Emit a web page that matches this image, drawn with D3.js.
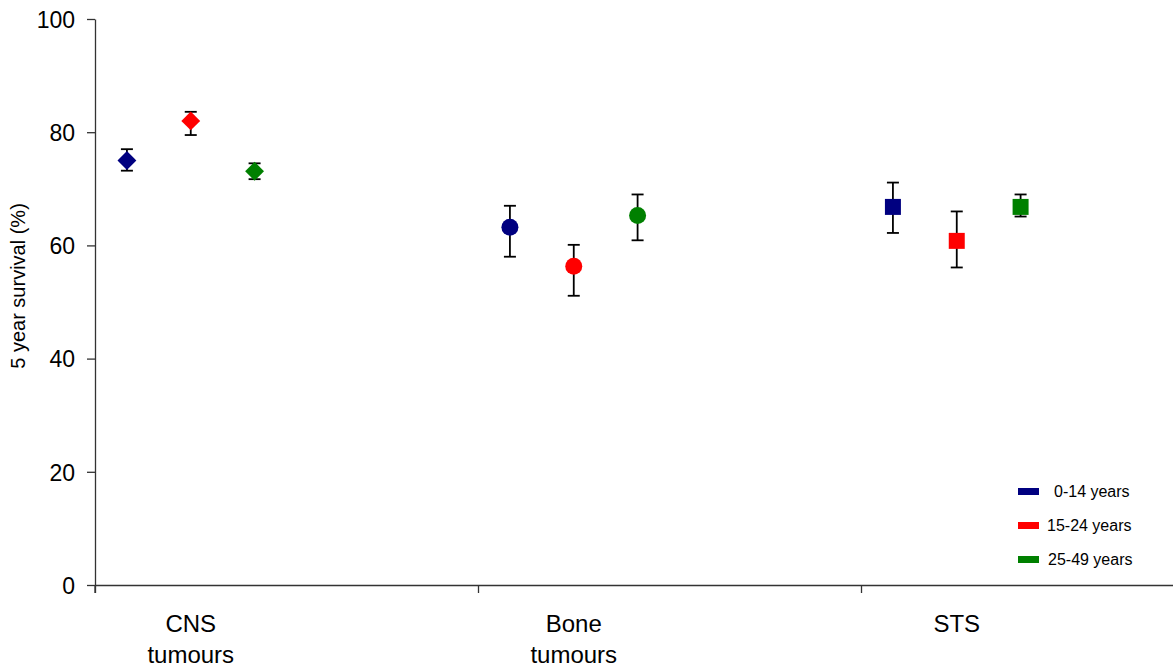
<!DOCTYPE html>
<html>
<head>
<meta charset="utf-8">
<script src="https://cdn.jsdelivr.net/npm/d3@7"></script>
<style>
  body { margin: 0; background: #fff; }
  text { font-family: Arial, "Liberation Sans", sans-serif; fill: #000; }
</style>
</head>
<body>
<svg id="chart" width="1173" height="669"></svg>
<script>
// chart data
var categories = [["CNS", "tumours"], ["Bone", "tumours"], ["STS"]];
var ageGroups = ["0-14 years", "15-24 years", "25-49 years"];
var colours = ["#000080", "#ff0000", "#008000"];
var yTicks = [0, 20, 40, 60, 80, 100];

// 5 year survival (%) with lower / upper limits, one value per category
var surv0_14 = [75.0, 63.2, 66.8];
var low0_14 = [73.2, 58.0, 62.2];
var high0_14 = [77.0, 67.0, 71.1];

var surv15_24 = [82.0, 56.3, 60.8];
var low15_24 = [79.5, 51.1, 56.1];
var high15_24 = [83.6, 60.1, 66.0];

var surv25_49 = [73.1, 65.3, 66.8];
var low25_49 = [71.7, 60.9, 65.1];
var high25_49 = [74.5, 69.0, 69.0];

// marker shape per category
var shapes = ["diamond", "circle", "square"];

var svg = d3.select("#chart");

// build point list
var series = [
    {value: surv0_14, low: low0_14, high: high0_14},
    {value: surv15_24, low: low15_24, high: high15_24},
    {value: surv25_49, low: low25_49, high: high25_49}
];
var points = [];
series.forEach(function(s, si) {
    s.value.forEach(function(v, ci) {
        points.push({cat: ci, group: si, value: v, low: s.low[ci], high: s.high[ci]});
    });
});

// scales - each category takes one unit, group centred at a quarter of it
var x = d3.scaleLinear().domain([0, 2.8146]).range([95, 1173]);
var y = d3.scaleLinear().domain([0, 100]).range([585, 19]);
var offsets = [-1 / 6, 0, 1 / 6];
function px(d) { return x(d.cat + 0.25 + offsets[d.group]); }

// axes
var yAxis = d3.axisLeft(y).tickValues(yTicks).tickSize(8).tickSizeOuter(0).tickPadding(12);
var xAxis = d3.axisBottom(x).tickValues([0, 1, 2]).tickFormat("").tickSize(8).tickSizeOuter(0);

var gY = svg.append("g").attr("transform", "translate(95,0)").call(yAxis);
gY.selectAll("text").style("font-size", "23px").attr("dy", "0.36em");
var gX = svg.append("g").attr("transform", "translate(0,585)").call(xAxis);
svg.selectAll(".domain, .tick line").attr("stroke", "#333").attr("stroke-width", 1.3);
// y axis line continues down past the x axis
svg.append("line")
    .attr("x1", 95).attr("x2", 95)
    .attr("y1", 585).attr("y2", 593)
    .attr("stroke", "#333").attr("stroke-width", 1.3);

// category labels
categories.forEach(function(lines, i) {
    var t = svg.append("text")
        .attr("x", x(i + 0.25))
        .attr("y", 632)
        .attr("text-anchor", "middle")
        .style("font-size", "24px");
    lines.forEach(function(l, j) {
        t.append("tspan").attr("x", x(i + 0.25)).attr("dy", j == 0 ? 0 : 31).text(l);
    });
});

// y axis title
svg.append("text")
    .attr("transform", "translate(25,286) rotate(-90)")
    .attr("text-anchor", "middle")
    .style("font-size", "20px")
    .text("5 year survival (%)");

// error bars
var err = svg.append("g").attr("stroke", "#000").attr("stroke-width", 1.8);
err.selectAll(".stem").data(points).enter().append("line")
    .attr("x1", px).attr("x2", px)
    .attr("y1", function(d) { return y(d.low); })
    .attr("y2", function(d) { return y(d.high); });
err.selectAll(".capTop").data(points).enter().append("line")
    .attr("x1", function(d) { return px(d) - 6; })
    .attr("x2", function(d) { return px(d) + 6; })
    .attr("y1", function(d) { return y(d.high); })
    .attr("y2", function(d) { return y(d.high); });
err.selectAll(".capBottom").data(points).enter().append("line")
    .attr("x1", function(d) { return px(d) - 6; })
    .attr("x2", function(d) { return px(d) + 6; })
    .attr("y1", function(d) { return y(d.low); })
    .attr("y2", function(d) { return y(d.low); });

// markers
var symbolFor = {
    diamond: d3.symbol().type(d3.symbolSquare).size(178),
    circle: d3.symbol().type(d3.symbolCircle).size(227),
    square: d3.symbol().type(d3.symbolSquare).size(256)
};
svg.selectAll(".marker").data(points).enter().append("path")
    .attr("class", "marker")
    .attr("d", function(d) { return symbolFor[shapes[d.cat]](); })
    .attr("transform", function(d) {
        var r = shapes[d.cat] == "diamond" ? " rotate(45)" : "";
        return "translate(" + px(d) + "," + y(d.value) + ")" + r;
    })
    .attr("fill", function(d) { return colours[d.group]; });

// legend
var legendY = [491.5, 525.5, 559.5];
var legendTextX = [1054, 1047, 1048];
var legend = svg.append("g");
ageGroups.forEach(function(name, i) {
    legend.append("rect")
        .attr("x", 1018).attr("y", legendY[i] - 3.5)
        .attr("width", 21).attr("height", 7)
        .attr("fill", colours[i]);
    legend.append("text")
        .attr("x", legendTextX[i]).attr("y", legendY[i] + 5.5)
        .style("font-size", "16px")
        .text(name);
});
</script>
</body>
</html>
